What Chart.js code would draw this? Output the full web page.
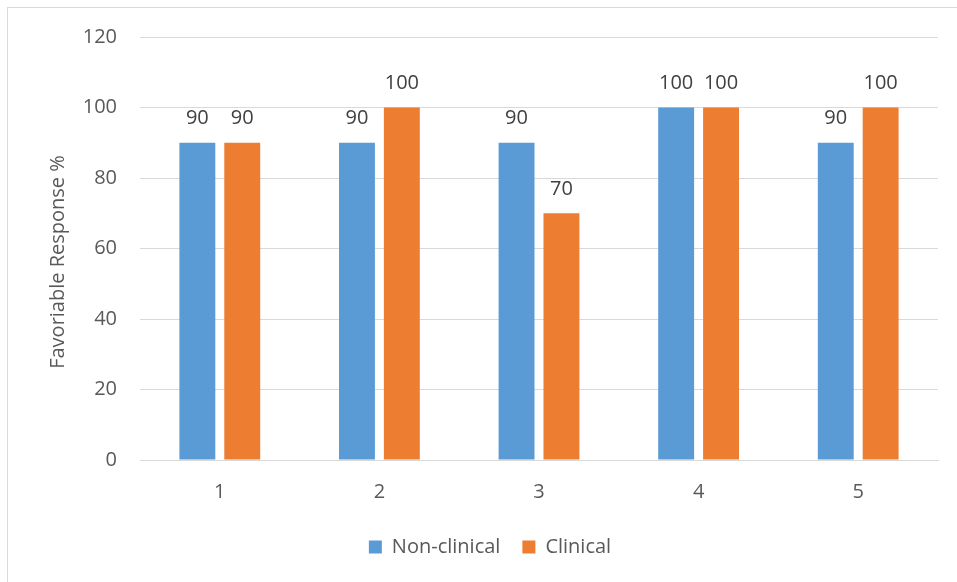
<!DOCTYPE html>
<html>
<head>
<meta charset="utf-8">
<script src="https://cdn.jsdelivr.net/npm/chart.js@4/dist/chart.umd.min.js"></script>
<style>
  html, body { margin: 0; padding: 0; background: #fff; }
  #wrap { position: relative; width: 957px; height: 582px; }
</style>
</head>
<body>
<div id="wrap"><canvas id="c" width="957" height="582"></canvas></div>
<script>
const categories = ['1', '2', '3', '4', '5'];
const nonClinical = [90, 90, 90, 100, 90];
const clinical = [90, 100, 70, 100, 100];
const seriesNames = ['Non-clinical', 'Clinical'];
const yAxisTitle = 'Favoriable Response %';

const FONT = '"Open Sans", "Liberation Sans", sans-serif';

const borderPlugin = {
  id: 'outerBorder',
  beforeDraw(chart) {
    const ctx = chart.ctx;
    ctx.save();
    ctx.fillStyle = '#fff';
    ctx.fillRect(0, 0, chart.width, chart.height);
    ctx.strokeStyle = '#d9d9d9';
    ctx.lineWidth = 1;
    ctx.strokeRect(7.5, 7.5, 960, 600);
    ctx.restore();
  }
};

const labelPlugin = {
  id: 'valueLabels',
  afterDatasetsDraw(chart) {
    const ctx = chart.ctx;
    ctx.save();
    ctx.font = '20px ' + FONT;
    ctx.fillStyle = '#404040';
    ctx.textAlign = 'center';
    ctx.textBaseline = 'middle';
    chart.data.datasets.forEach((ds, di) => {
      const meta = chart.getDatasetMeta(di);
      meta.data.forEach((el, i) => {
        ctx.fillText(String(ds.data[i]), el.x, el.y - 24);
      });
    });
    ctx.restore();
  }
};

const yTitlePlugin = {
  id: 'yTitle',
  afterDraw(chart) {
    const ctx = chart.ctx;
    ctx.save();
    ctx.font = '20px ' + FONT;
    ctx.fillStyle = '#595959';
    ctx.textAlign = 'center';
    ctx.textBaseline = 'middle';
    ctx.translate(58, 262);
    ctx.rotate(-Math.PI / 2);
    ctx.fillText(yAxisTitle, 0, 0);
    ctx.restore();
  }
};

new Chart(document.getElementById('c'), {
  type: 'bar',
  data: {
    labels: categories,
    datasets: [
      { label: seriesNames[0], data: nonClinical, backgroundColor: '#5B9BD5', borderWidth: 0 },
      { label: seriesNames[1], data: clinical, backgroundColor: '#ED7D31', borderWidth: 0 }
    ]
  },
  options: {
    responsive: false,
    animation: false,
    devicePixelRatio: 1,
    layout: { padding: { top: 37, right: 19, left: 42, bottom: 15 } },
    datasets: { bar: { categoryPercentage: 0.5625, barPercentage: 0.8 } },
    plugins: {
      legend: {
        position: 'bottom',
        labels: {
          boxWidth: 13, boxHeight: 13, padding: 22,
          color: '#595959',
          font: { family: FONT, size: 20 }
        }
      },
      tooltip: { enabled: false },
      title: { display: false }
    },
    scales: {
      x: {
        grid: { display: false, drawTicks: false },
        border: { display: true, color: '#d9d9d9', width: 1 },
        ticks: { color: '#595959', padding: 20, font: { family: FONT, size: 20 } },
        afterFit(scale) { scale.height = 55; }
      },
      y: {
        min: 0, max: 120,
        ticks: { stepSize: 20, color: '#595959', padding: 23, font: { family: FONT, size: 20 } },
        grid: { color: '#d9d9d9', drawTicks: false, tickLength: 0 },
        border: { display: false },
        afterFit(scale) { scale.width = 98; }
      }
    }
  },
  plugins: [borderPlugin, labelPlugin, yTitlePlugin]
});
</script>
</body>
</html>
